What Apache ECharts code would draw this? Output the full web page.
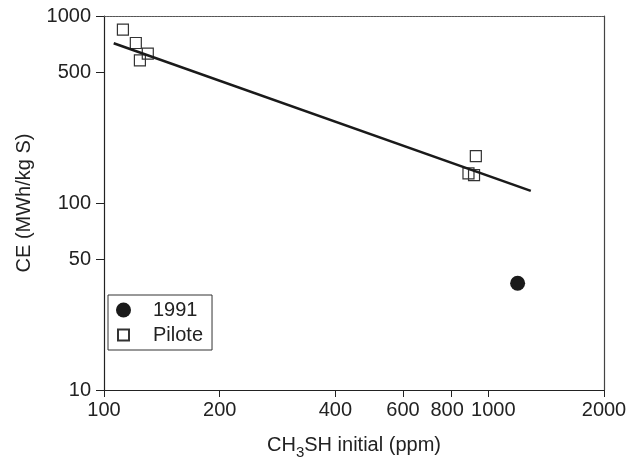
<!DOCTYPE html>
<html>
<head>
<meta charset="utf-8">
<script src="https://cdn.jsdelivr.net/npm/echarts@6/dist/echarts.min.js"></script>
<style>
  html, body { margin: 0; padding: 0; background: #fff; }
  #chart { width: 629px; height: 459px; }
</style>
</head>
<body>
<div id="chart"></div>
<script>
// ticks
var xTicks = [100, 200, 400, 600, 800, 1000, 2000];
var yTicks = [10, 50, 100, 500, 1000];

// CH3SH initial (ppm), CE (MWh/kg S)
var pilote = [[112, 845], [121, 717], [124, 579], [130, 629], [888, 144], [918, 141], [928, 178]];
var y1991 = [[1192, 37.2]];
// regression line end points
var fitLine = [[106, 715], [1290, 116]];

var myChart = echarts.init(document.getElementById('chart'));

var font = 'Liberation Sans, Arial, sans-serif';
var ink = '#222';

var option = {
    animation: false,
    textStyle: { fontFamily: font },
    grid: { left: 104, right: 25, top: 16, bottom: 69, outerBoundsMode: 'none', containLabel: false },
    legend: {
        orient: 'vertical',
        left: 108,
        top: 295,
        padding: [5, 9, 5, 7],
        itemGap: 5,
        itemWidth: 15,
        itemHeight: 15,
        borderColor: '#333',
        borderWidth: 1,
        textStyle: { fontSize: 20, color: ink, fontFamily: font, padding: [0, 0, 0, 17] },
        data: [
            { name: '1991', icon: 'circle' },
            { name: 'Pilote', icon: 'path://M0,0M15,15M2,2H13V13H2Z' }
        ]
    },
    xAxis: [{
        type: 'log',
        logBase: 10,
        min: 100,
        max: 2000,
        name: '{a|CH}{s|3}{a|SH initial (ppm)}',
        nameLocation: 'middle',
        nameGap: 45,
        nameTextStyle: {
            rich: {
                a: { fontSize: 20, lineHeight: 22, color: ink, verticalAlign: 'top', fontFamily: font },
                s: { fontSize: 15, lineHeight: 15, color: ink, verticalAlign: 'top', padding: [10, 0, 0, 0], fontFamily: font }
            }
        },
        splitLine: { show: false },
        axisLine: { lineStyle: { color: ink, width: 1.2 } },
        axisTick: { customValues: xTicks, length: 7, lineStyle: { color: ink } },
        axisLabel: {
            customValues: xTicks,
            fontSize: 20, color: ink, margin: 10,
            formatter: function (v) {
                var s = String(Math.round(v));
                if (s === '800') return '{l|800}';
                if (s === '1000') return '{r|1000}';
                return s;
            },
            rich: {
                l: { fontSize: 20, color: ink, padding: [0, 8, 0, 0] },
                r: { fontSize: 20, color: ink, padding: [0, 0, 0, 10] }
            }
        }
    }, {
        type: 'log',
        logBase: 10,
        min: 100,
        max: 2000,
        position: 'top',
        axisLine: { lineStyle: { color: '#555', width: 1.2, type: [2, 1] } },
        axisTick: { show: false },
        axisLabel: { show: false },
        splitLine: { show: false }
    }],
    yAxis: [{
        type: 'log',
        logBase: 10,
        min: 10,
        max: 1000,
        name: 'CE (MWh/kg S)',
        nameLocation: 'middle',
        nameGap: 70,
        nameTextStyle: { fontSize: 20, color: ink },
        splitLine: { show: false },
        axisLine: { lineStyle: { color: ink, width: 1.2 } },
        axisTick: { customValues: yTicks, length: 8, lineStyle: { color: ink } },
        axisLabel: {
            customValues: yTicks,
            fontSize: 20, color: ink, margin: 13,
            formatter: function (v) { return String(Math.round(v)); }
        }
    }, {
        type: 'log',
        logBase: 10,
        min: 10,
        max: 1000,
        position: 'right',
        axisLine: { show: true, lineStyle: { color: '#444', width: 1.2 } },
        axisTick: { show: false },
        axisLabel: { show: false },
        splitLine: { show: false }
    }],
    series: [{
        name: 'fit',
        type: 'line',
        data: fitLine,
        symbol: 'none',
        lineStyle: { color: '#1a1a1a', width: 2.5 },
        z: 3
    }, {
        name: 'Pilote',
        type: 'scatter',
        data: pilote,
        symbol: 'rect',
        symbolSize: 11,
        itemStyle: { color: 'rgba(0,0,0,0)', borderColor: '#333', borderWidth: 1.2, opacity: 1 },
        z: 2
    }, {
        name: '1991',
        type: 'scatter',
        data: y1991,
        symbol: 'circle',
        symbolSize: 15,
        itemStyle: { color: '#1a1a1a', opacity: 1 }
    }]
};

myChart.setOption(option);
</script>
</body>
</html>
